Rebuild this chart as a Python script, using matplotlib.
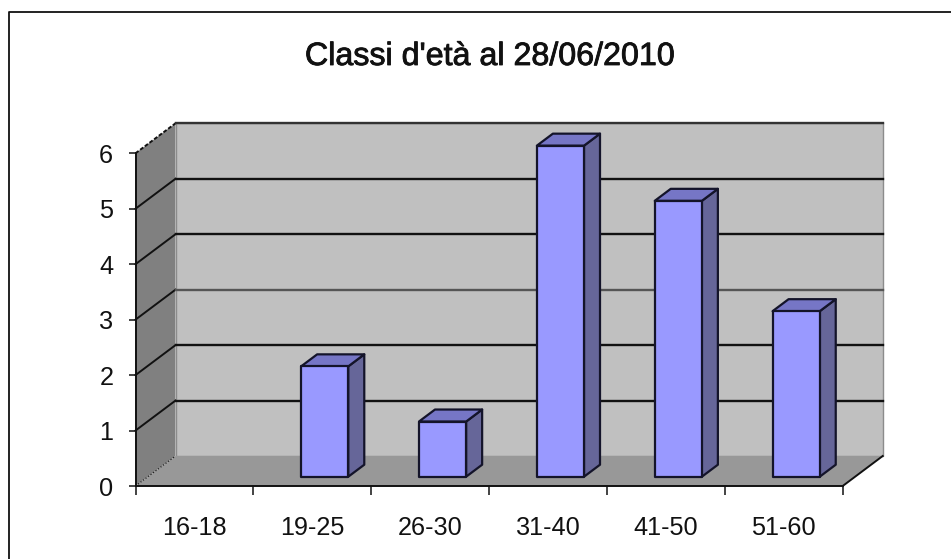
import matplotlib
matplotlib.use("Agg")
import matplotlib.pyplot as plt
from matplotlib.lines import Line2D
from matplotlib.patches import Polygon
import matplotlib.patheffects as pe

labels = ["16-18", "19-25", "26-30", "31-40", "41-50", "51-60"]
counts = [0, 2, 1, 6, 5, 3]
y_levels = [0, 1, 2, 3, 4, 5, 6]
grid_colors = ["#000000", "#111111", "#111111", "#555555", "#111111", "#111111", "#333333"]

plt.rcParams["font.family"] = ["Liberation Sans", "DejaVu Sans"]

W, H = 951, 559
fig = plt.figure(figsize=(W / 100, H / 100), dpi=100, facecolor="white")
ax = fig.add_axes([135.5 / W, (H - 486) / H, 707.2 / W, 332.7 / H])
ax.set_xlim(0, 6)
ax.set_ylim(0, 6)
ax.set_facecolor("none")

# oblique depth of the box, in data units
DX = 40 / (707.2 / 6)
DY = 30 / (332.7 / 6)
BAR_W = 0.40
BAR_FRONT = 0.31
BAR_BACK = 0.71
BAR_SCALE = 0.995


def shift(x, y, d):
    return (x + d * DX, y + d * DY)


def poly(points, color, edge="none", lw=0, z=1):
    ax.add_patch(Polygon(points, closed=True, facecolor=color, edgecolor=edge,
                         linewidth=lw, zorder=z, clip_on=False, joinstyle="round"))


# walls and floor
poly([shift(0, 0, 1), shift(6, 0, 1), shift(6, 6, 1), shift(0, 6, 1)], "#C0C0C0", "#8c8c8c", 1.0)
poly([(0, 0), shift(0, 0, 1), shift(0, 6, 1), (0, 6)], "#808080")
poly([(0, 0), (6, 0), shift(6, 0, 1), shift(0, 0, 1)], "#989898")

# gridlines run along the side wall and the back wall
for level, color in zip(y_levels, grid_colors):
    if level == 0:
        ax.plot(*zip((0, 0), shift(0, 0, 1)), color="#222222", lw=0.9, ls=(0, (1, 1.5)), zorder=2, clip_on=False)
        ax.plot(*zip((6, 0), shift(6, 0, 1)), color="#111111", lw=1.4, zorder=2, clip_on=False)
        continue
    ls = (0, (2, 1)) if level == 6 else "-"
    ax.plot(*zip((0, level), shift(0, level, 1)), color="#111111", lw=1.4, ls=ls, zorder=2, clip_on=False)
    ax.plot(*zip(shift(0, level, 1), shift(6, level, 1)), color=color, lw=1.7, zorder=2, clip_on=False)

# bars
for i, value in enumerate(counts):
    if value == 0:
        continue
    top = value * BAR_SCALE
    x0 = i + 0.5 - BAR_W / 2
    x1 = i + 0.5 + BAR_W / 2
    fa, fb = shift(x0, 0, BAR_FRONT), shift(x1, 0, BAR_FRONT)
    fc, fd = shift(x1, top, BAR_FRONT), shift(x0, top, BAR_FRONT)
    dx = (BAR_BACK - BAR_FRONT) * DX
    dy = (BAR_BACK - BAR_FRONT) * DY
    poly([fb, (fb[0] + dx, fb[1] + dy), (fc[0] + dx, fc[1] + dy), fc], "#666699", "#14142a", 1.6, 3)
    poly([fd, fc, (fc[0] + dx, fc[1] + dy), (fd[0] + dx, fd[1] + dy)], "#7676C6", "#14142a", 1.6, 3)
    poly([fa, fb, fc, fd], "#9999FF", "#14142a", 1.6, 4)

for side in ["top", "right"]:
    ax.spines[side].set_visible(False)
for side in ["left", "bottom"]:
    ax.spines[side].set_linewidth(1.4)
    ax.spines[side].set_color("#111111")
    ax.spines[side].set_zorder(5)

ax.set_yticks(y_levels)
ax.set_xticks(range(7))
ax.set_xticklabels([])
ax.set_xticks([i + 0.5 for i in range(6)], minor=True)
ax.set_xticklabels(labels, minor=True)
ax.tick_params(axis="x", which="major", length=6.5, width=1.1, color="#111111")
ax.tick_params(axis="x", which="minor", length=0, pad=21.5, labelsize=18.2, labelcolor="#111111")
ax.tick_params(axis="y", length=5, width=1.1, color="#111111", pad=11, labelsize=18.2, labelcolor="#111111")

title = fig.text(490 / W, 1 - 57 / H, "Classi d'età al 28/06/2010", ha="center", va="center", fontsize=23.2, color="#111111")
title.set_path_effects([pe.withStroke(linewidth=0.6, foreground="#111111")])

# chart border
fig.add_artist(Line2D([8.5 / W, 8.5 / W, 1], [0, 1 - 12 / H, 1 - 12 / H], color="#111111", lw=1.3))

fig.savefig("out.png", dpi=100)
